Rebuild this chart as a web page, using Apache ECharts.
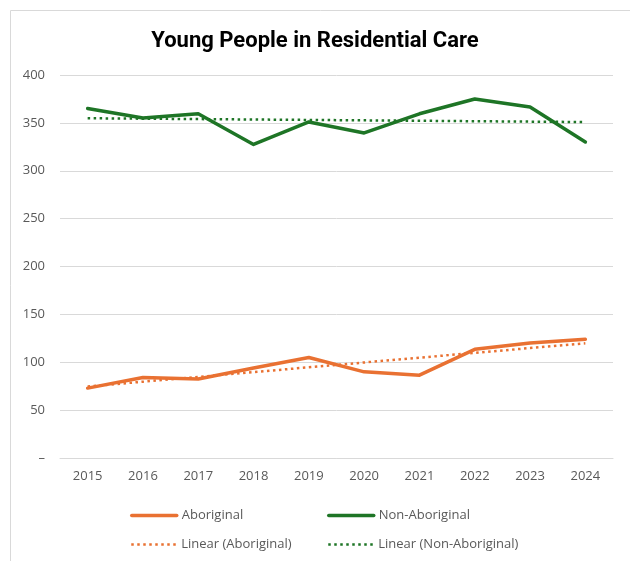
<!DOCTYPE html>
<html><head><meta charset="utf-8">
<script src="https://cdn.jsdelivr.net/npm/echarts@6/dist/echarts.min.js"></script>
<style>html,body{margin:0;padding:0;background:#fff}#c{width:630px;height:561px}</style>
</head><body><div id="c"></div>
<script>
const years = ['2015','2016','2017','2018','2019','2020','2021','2022','2023','2024'];
const aboriginal = [73, 84, 82.5, 94, 105, 90, 86.5, 113.5, 120, 124];
const nonAboriginal = [365, 355, 359.5, 327.5, 351, 339.5, 359.5, 375, 366.5, 330];
const yTicks = [0, 50, 100, 150, 200, 250, 300, 350, 400];

function linearFit(vals) {
  const n = vals.length;
  const mx = (n - 1) / 2;
  const my = vals.reduce((a, b) => a + b, 0) / n;
  let sxy = 0, sxx = 0;
  vals.forEach((v, i) => { sxy += (i - mx) * (v - my); sxx += (i - mx) * (i - mx); });
  const b = sxy / sxx;
  return vals.map((_, i) => +(my + b * (i - mx)).toFixed(2));
}

const ORANGE = '#E97132';
const GREEN = '#1E7526';
const font = 'Open Sans';

const chart = echarts.init(document.getElementById('c'));
function legendAt(name, left, top, lw) {
  return {
    data: [name], left: left, top: top,
    itemWidth: 45, itemHeight: 10, itemGap: 4,
    itemStyle: { opacity: 0 },
    lineStyle: { width: lw },
    textStyle: { color: '#595959', fontSize: 13, fontFamily: font },
    selectedMode: false
  };
}
chart.setOption({
  animation: false,
  title: {
    text: 'Young People in Residential Care',
    left: 'center', top: 25,
    textStyle: { fontFamily: 'Roboto', fontWeight: 'bold', fontSize: 22, color: '#000' }
  },
  graphic: [{
    type: 'polyline', silent: true,
    shape: { points: [[10.5, 561], [10.5, 10.5], [640, 10.5]] },
    style: { stroke: '#d9d9d9', lineWidth: 1, fill: null }
  }],
  legend: [
    legendAt('Aboriginal', 125, 504, 3.5),
    legendAt('Non-Aboriginal', 322, 504, 3.5),
    legendAt('Linear (Aboriginal)', 125, 533, 2.5),
    legendAt('Linear (Non-Aboriginal)', 322, 533, 2.5)
  ],
  grid: { left: 60, right: 17, top: 75, bottom: 103, containLabel: false },
  xAxis: {
    type: 'category', data: years, boundaryGap: true,
    axisLine: { show: true, lineStyle: { color: '#d9d9d9', width: 1 } },
    axisTick: { show: false },
    axisLabel: { color: '#595959', fontSize: 13, fontFamily: font, margin: 12 }
  },
  yAxis: {
    type: 'value', min: yTicks[0], max: yTicks[yTicks.length - 1], interval: 50,
    axisLine: { show: false }, axisTick: { show: false },
    splitLine: { lineStyle: { color: '#d9d9d9', width: 1 } },
    axisLabel: { color: '#595959', fontSize: 13, fontFamily: font, margin: 15,
      formatter: v => v === 0 ? '–' : String(v) }
  },
  series: [
    { name: 'Linear (Aboriginal)', type: 'line', data: linearFit(aboriginal), symbol: 'none',
      lineStyle: { color: ORANGE, width: 2.5, type: [2.5, 3.5] }, itemStyle: { color: ORANGE }, z: 1 },
    { name: 'Linear (Non-Aboriginal)', type: 'line', data: linearFit(nonAboriginal), symbol: 'none',
      lineStyle: { color: GREEN, width: 2.5, type: [2.5, 3.5] }, itemStyle: { color: GREEN }, z: 1 },
    { name: 'Aboriginal', type: 'line', data: aboriginal, symbol: 'none',
      lineStyle: { color: ORANGE, width: 3.5, cap: 'round', join: 'round' }, itemStyle: { color: ORANGE }, z: 2 },
    { name: 'Non-Aboriginal', type: 'line', data: nonAboriginal, symbol: 'none',
      lineStyle: { color: GREEN, width: 3.5, cap: 'round', join: 'round' }, itemStyle: { color: GREEN }, z: 2 }
  ]
});
</script></body></html>
